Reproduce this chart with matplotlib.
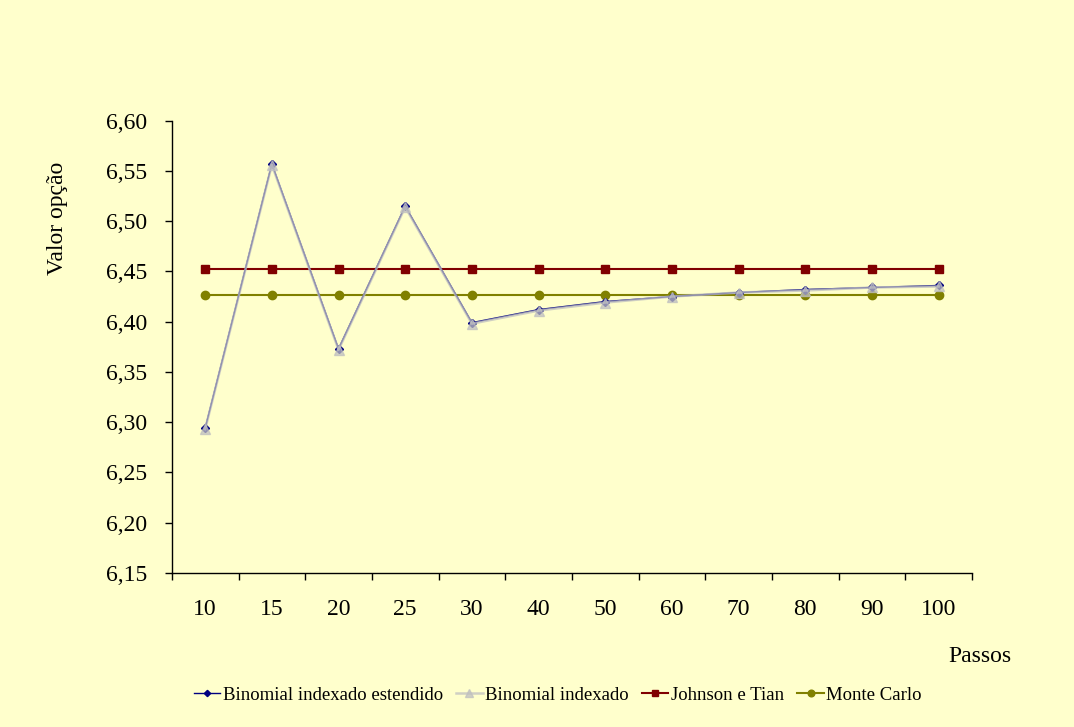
import numpy as np
import matplotlib
matplotlib.use('Agg')
import matplotlib.pyplot as plt
from matplotlib.ticker import FixedLocator, FuncFormatter

# Dados: valor da opção por número de passos
passos = ['10', '15', '20', '25', '30', '40', '50', '60', '70', '80', '90', '100']
binomial_estendido = [6.294, 6.557, 6.373, 6.515, 6.399, 6.412, 6.420, 6.425, 6.429, 6.432, 6.434, 6.436]
binomial_indexado = [6.293, 6.556, 6.372, 6.514, 6.398, 6.411, 6.419, 6.425, 6.429, 6.431, 6.434, 6.435]
johnson_tian = [6.452] * 12
monte_carlo = [6.427] * 12

plt.rcParams['font.family'] = ['Liberation Serif', 'DejaVu Serif']

fundo = '#FFFFCC'
fig = plt.figure(figsize=(10.74, 7.27), dpi=100, facecolor=fundo)
ax = fig.add_axes([0.160, 0.212, 0.745, 0.622], facecolor=fundo)

x = np.arange(len(passos))

ax.plot(x, binomial_estendido, color='#000080', lw=1.0, marker='D', ms=4,
        label='Binomial indexado estendido', zorder=3)
ax.plot(x, binomial_indexado, color='#C0C0C0', lw=1.8, marker='^', ms=6.5,
        alpha=0.75, label='Binomial indexado', zorder=4)
ax.plot(x, johnson_tian, color='#800000', lw=1.5, marker='s', ms=6,
        label='Johnson e Tian', zorder=2)
ax.plot(x, monte_carlo, color='#808000', lw=1.5, marker='o', ms=6,
        label='Monte Carlo', zorder=2)

ax.set_xlim(-0.5, len(passos) - 0.5)
ax.set_ylim(6.15, 6.60)

# eixo y
ax.set_yticks(np.arange(6.15, 6.601, 0.05))
ax.yaxis.set_major_formatter(FuncFormatter(lambda v, p: f'{v:.2f}'.replace('.', ',')))
ax.tick_params(axis='y', direction='out', length=5, width=1, pad=13, labelsize=17)

# eixo x: rótulos no centro das categorias, marcas entre elas
ax.set_xticks(x)
ax.set_xticklabels(passos)
ax.xaxis.set_minor_locator(FixedLocator(np.arange(-0.5, len(passos), 1.0)))
ax.tick_params(axis='x', which='major', length=0, pad=19, labelsize=17)
ax.tick_params(axis='x', which='minor', direction='out', length=5, width=1)

for s in ['top', 'right']:
    ax.spines[s].set_visible(False)
for s in ['left', 'bottom']:
    ax.spines[s].set_linewidth(1.0)

fig.text(58 / 1074, 1 - 218 / 727, 'Valor opção', rotation=90, fontsize=17,
         ha='center', va='center')
fig.text(980 / 1074, 1 - 657 / 727, 'Passos', fontsize=17, ha='center', va='center')

leg = fig.legend(loc='center', bbox_to_anchor=(558 / 1074, 1 - 695 / 727), ncol=4,
                 frameon=False, fontsize=13.5, handlelength=1.4, handletextpad=0.15,
                 columnspacing=0.7, markerscale=0.8)

fig.savefig('out.png', dpi=100, facecolor=fundo)
